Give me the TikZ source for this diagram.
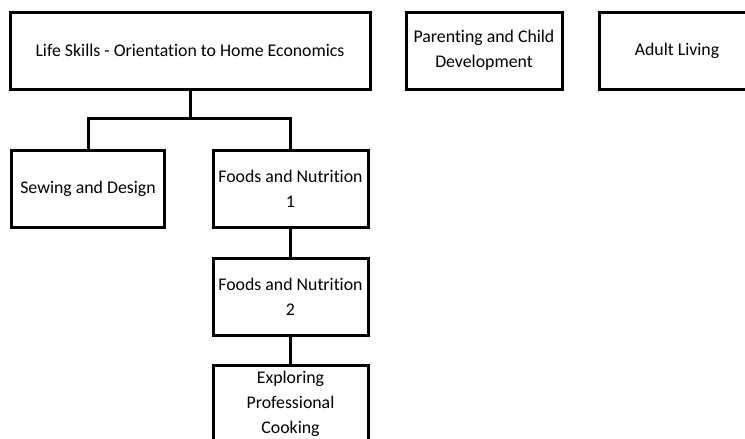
\documentclass[tikz,border=0pt]{standalone}
\usepackage{fontspec}
\setmainfont[RawFeature={-liga}]{Carlito}
\begin{document}
\begin{tikzpicture}[x=1pt,y=-1pt,
  box/.style={draw=black,line width=3pt,fill=white,minimum width=155pt,minimum height=77pt,inner sep=0pt,align=center,font=\fontsize{17.8}{25}\selectfont},
  conn/.style={draw=black,line width=3pt}]
\useasboundingbox (0,0) rectangle (745,439);
\clip (0,0) rectangle (745,439);
\node[box,minimum width=360pt] (top) at (190,50.5) {Life Skills - Orientation to Home Economics};
\node[box,minimum width=156pt] (par) at (484,50.5) {Parenting and Child\\Development};
\node[box,minimum width=156pt] (adult) at (677,50.5) {Adult Living};
\node[box,minimum width=153pt] (sew) at (88,189) {Sewing and Design};
\node[box] (f1) at (290.5,189) {Foods and Nutrition\\1};
\node[box] (f2) at (290.5,296.5) {Foods and Nutrition\\2};
\node[box] (exp) at (290.5,403.5) {Exploring\\Professional\\Cooking};
\coordinate (j) at (190,118);
\draw[conn] (top.south) -- (j);
\draw[conn] (sew.north) |- (j) -| (f1.north);
\draw[conn] (f1) -- (f2);
\draw[conn] (f2) -- (exp);
\end{tikzpicture}
\end{document}
